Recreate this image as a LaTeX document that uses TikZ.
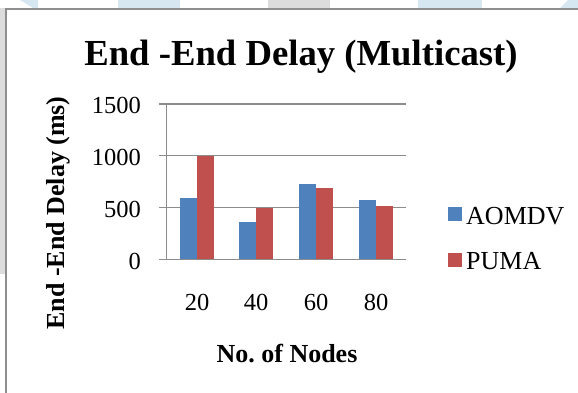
\documentclass[tikz,border=0pt]{standalone}
\usepackage{fontspec}
\setmainfont{Liberation Serif}
\frenchspacing
\definecolor{barblue}{HTML}{4F81BD}
\definecolor{barred}{HTML}{C0504D}
\definecolor{gridgray}{HTML}{8C8C8C}
\definecolor{washblue}{HTML}{D6E7F1}
\definecolor{washgray}{HTML}{DCDCDC}
\definecolor{framegray}{HTML}{8E8E8E}
\tikzset{
  titletext/.style={font=\fontsize{36.7}{40}\selectfont\bfseries, inner sep=0pt},
  axistitle/.style={font=\fontsize{26}{28}\selectfont\bfseries, inner sep=0pt},
  ticktext/.style={font=\fontsize{24.5}{26}\selectfont, inner sep=0pt},
  legtext/.style={font=\fontsize{26}{28}\selectfont, inner sep=0pt},
  gridln/.style={draw=gridgray, line width=1.1pt},
  bluebar/.style={fill=barblue, draw=none},
  redbar/.style={fill=barred, draw=none},
}
\begin{document}
\begin{tikzpicture}[x=1pt,y=-1pt]
\useasboundingbox (0,0) rectangle (578,392);
% background wash
\fill[washblue] (20,0) -- (38,0) -- (38,8) -- (33,8) -- cycle;
\fill[washblue] (118,0) rectangle (180,8);
\fill[washgray] (268,0) rectangle (330,8);
\fill[washblue] (418,0) rectangle (482,8);
\fill[washblue] (568,0) -- (578,0) -- (578,8) -- (560,8) -- cycle;
\fill[washgray] (0,8) rectangle (4.5,274);
% chart frame
\begin{scope}
\clip (0,0) rectangle (578,392);
\draw[framegray, line width=2pt] (5.5,400) -- (5.5,8.5) -- (590,8.5);
\end{scope}
% title
\node[titletext, anchor=base] (title) at (301,65) {End -End Delay (Multicast)};
% gridlines
\foreach \v/\n in {0/g0,500/g1,1000/g2,1500/g3}{
  \coordinate (\n l) at (159,{259.5-\v*0.10367});
  \coordinate (\n r) at (406,{259.5-\v*0.10367});
  \draw[gridln] (\n l) -- (\n r);
  \node[ticktext, anchor=base east] (t\n) at (141,{259.5-\v*0.10367+9.5}) {\v};
}
% bars
\foreach \x/\b/\r [count=\i] in {180/590/1000, 239/360/500, 299/730/690, 359/570/520}{
  \fill[bluebar] (\x,259.5) rectangle ({\x+17},{259.5-\b*0.10367});
  \fill[redbar] ({\x+17},259.5) rectangle ({\x+34},{259.5-\r*0.10367});
}
% y axis
\coordinate (ytop) at (166.5,104);
\coordinate (ybot) at (166.5,259.5);
\draw[gridln] (ytop) -- (ybot);
\draw[gridln] (g0l) -- (g0r);
% x tick labels
\foreach \x/\l in {197/20, 256/40, 316/60, 376/80}{
  \node[ticktext, anchor=base] (x\l) at (\x,310) {\l};
}
% axis titles
\node[axistitle, anchor=base] (xtitle) at (287,362) {No.\ of Nodes};
\node[axistitle, anchor=base, rotate=90] (ytitle) at (64,213) {End -End Delay (ms)};
% legend
\node[bluebar, minimum size=14pt, inner sep=0pt, anchor=north west] (lb) at (448,207) {};
\node[legtext, anchor=base west] (lbt) at (466,224) {AOMDV};
\node[redbar, minimum size=14pt, inner sep=0pt, anchor=north west] (lr) at (448,253) {};
\node[legtext, anchor=base west] (lrt) at (466,269) {PUMA};
\end{tikzpicture}
\end{document}
